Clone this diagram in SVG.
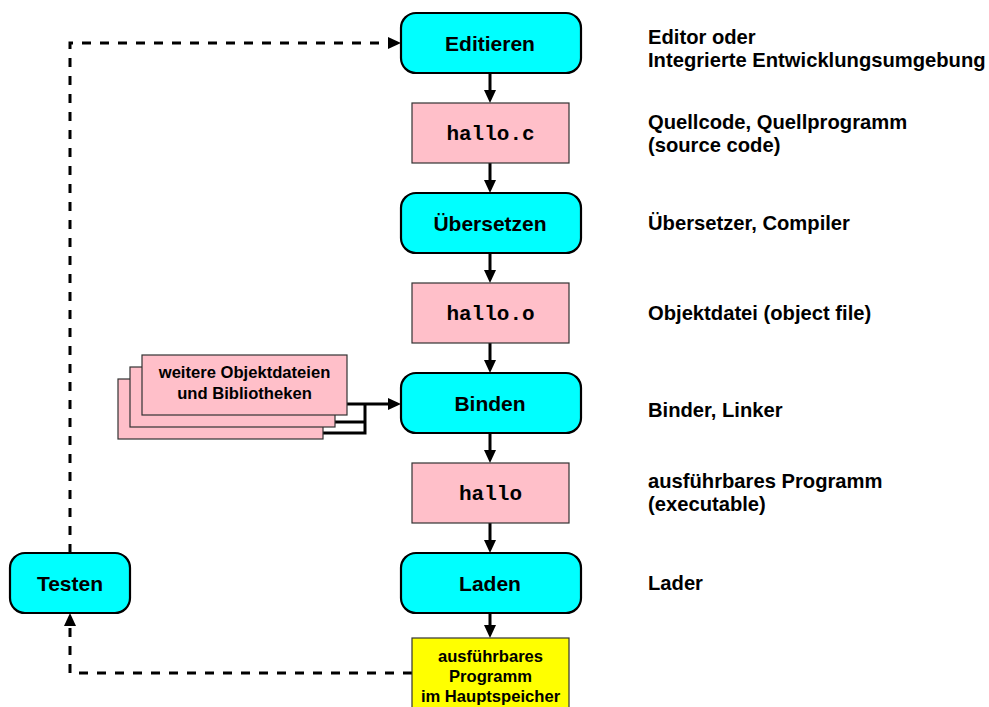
<svg xmlns="http://www.w3.org/2000/svg" width="989" height="707" viewBox="0 0 989 707">
  <style>
    .step { fill: #00FFFF; stroke: #000; stroke-width: 2.2; }
    .file { fill: #FFBFC9; stroke: #333; stroke-width: 1.2; }
    .mem { fill: #FFFF00; stroke: #333; stroke-width: 1.2; }
    .lbl { font-family: "Liberation Sans", Arial, sans-serif; font-weight: bold; font-size: 21px; fill: #000; text-anchor: middle; }
    .code { font-family: "Liberation Mono", "Courier New", monospace; font-weight: bold; font-size: 21px; fill: #000; text-anchor: middle; }
    .small { font-family: "Liberation Sans", Arial, sans-serif; font-weight: bold; font-size: 16.6px; fill: #000; text-anchor: middle; }
    .note { font-family: "Liberation Sans", Arial, sans-serif; font-weight: bold; font-size: 20.2px; fill: #000; }
    .flow { fill: none; stroke: #000; stroke-width: 3; }
    .dash { fill: none; stroke: #000; stroke-width: 3; stroke-dasharray: 9 9; }
  </style>
  <defs>
    <marker id="head" markerUnits="userSpaceOnUse" markerWidth="14" markerHeight="12" refX="0" refY="6" orient="auto">
      <path d="M0,0 L13,6 L0,12 Z" fill="#000"/>
    </marker>
  </defs>

  <!-- connectors -->
  <g id="connectors">
    <line class="flow" x1="490" y1="73" x2="490" y2="90" marker-end="url(#head)"/>
    <line class="flow" x1="490" y1="163" x2="490" y2="180" marker-end="url(#head)"/>
    <line class="flow" x1="490" y1="253" x2="490" y2="270" marker-end="url(#head)"/>
    <line class="flow" x1="490" y1="343" x2="490" y2="360" marker-end="url(#head)"/>
    <line class="flow" x1="490" y1="433" x2="490" y2="450" marker-end="url(#head)"/>
    <line class="flow" x1="490" y1="523" x2="490" y2="540" marker-end="url(#head)"/>
    <line class="flow" x1="490" y1="613" x2="490" y2="625" marker-end="url(#head)"/>
    <!-- libraries into the linker -->
    <line class="flow" x1="347" y1="404" x2="388" y2="404" marker-end="url(#head)"/>
    <polyline class="flow" points="335,422 365,422"/>
    <polyline class="flow" points="323,433 365,433 365,404"/>
    <!-- test loop back to the editor -->
    <polyline class="dash" points="70,553 70,43 388,43" marker-end="url(#head)"/>
    <polyline class="dash" points="412,673 70,673 70,626" marker-end="url(#head)"/>
  </g>

  <g id="editieren">
    <rect class="step" x="401" y="13" width="180" height="60" rx="15"/>
    <text class="lbl" x="490" y="50.5">Editieren</text>
  </g>
  <g id="hallo-c">
    <rect class="file" x="412" y="103" width="157" height="60"/>
    <text class="code" x="490.5" y="140">hallo.c</text>
  </g>
  <g id="uebersetzen">
    <rect class="step" x="401" y="193" width="180" height="60" rx="15"/>
    <text class="lbl" x="490" y="230.5">Übersetzen</text>
  </g>
  <g id="hallo-o">
    <rect class="file" x="412" y="283" width="157" height="60"/>
    <text class="code" x="490.5" y="320">hallo.o</text>
  </g>
  <g id="bibliotheken">
    <rect class="file" x="118" y="379" width="205" height="60"/>
    <rect class="file" x="130" y="367" width="205" height="60"/>
    <rect class="file" x="142" y="355" width="205" height="60"/>
    <text class="small" x="244.5" y="378">weitere Objektdateien</text>
    <text class="small" x="244.5" y="399">und Bibliotheken</text>
  </g>
  <g id="binden">
    <rect class="step" x="401" y="373" width="180" height="60" rx="15"/>
    <text class="lbl" x="490" y="410.5">Binden</text>
  </g>
  <g id="hallo">
    <rect class="file" x="412" y="463" width="157" height="60"/>
    <text class="code" x="490.5" y="500">hallo</text>
  </g>
  <g id="laden">
    <rect class="step" x="401" y="553" width="180" height="60" rx="15"/>
    <text class="lbl" x="490" y="590.5">Laden</text>
  </g>
  <g id="hauptspeicher">
    <rect class="mem" x="412" y="638" width="157" height="80"/>
    <text class="small" x="490.5" y="662">ausführbares</text>
    <text class="small" x="490.5" y="682">Programm</text>
    <text class="small" x="490.5" y="702">im Hauptspeicher</text>
  </g>
  <g id="testen">
    <rect class="step" x="10" y="553" width="120" height="60" rx="15"/>
    <text class="lbl" x="70" y="590.5">Testen</text>
  </g>

  <!-- explanations on the right -->
  <g id="notes">
    <text class="note" x="648" y="44">Editor oder</text>
    <text class="note" x="648" y="67">Integrierte Entwicklungsumgebung</text>
    <text class="note" x="648" y="129">Quellcode, Quellprogramm</text>
    <text class="note" x="648" y="152">(source code)</text>
    <text class="note" x="648" y="230">Übersetzer, Compiler</text>
    <text class="note" x="648" y="320">Objektdatei (object file)</text>
    <text class="note" x="648" y="417">Binder, Linker</text>
    <text class="note" x="648" y="488">ausführbares Programm</text>
    <text class="note" x="648" y="511">(executable)</text>
    <text class="note" x="648" y="590">Lader</text>
  </g>
</svg>
